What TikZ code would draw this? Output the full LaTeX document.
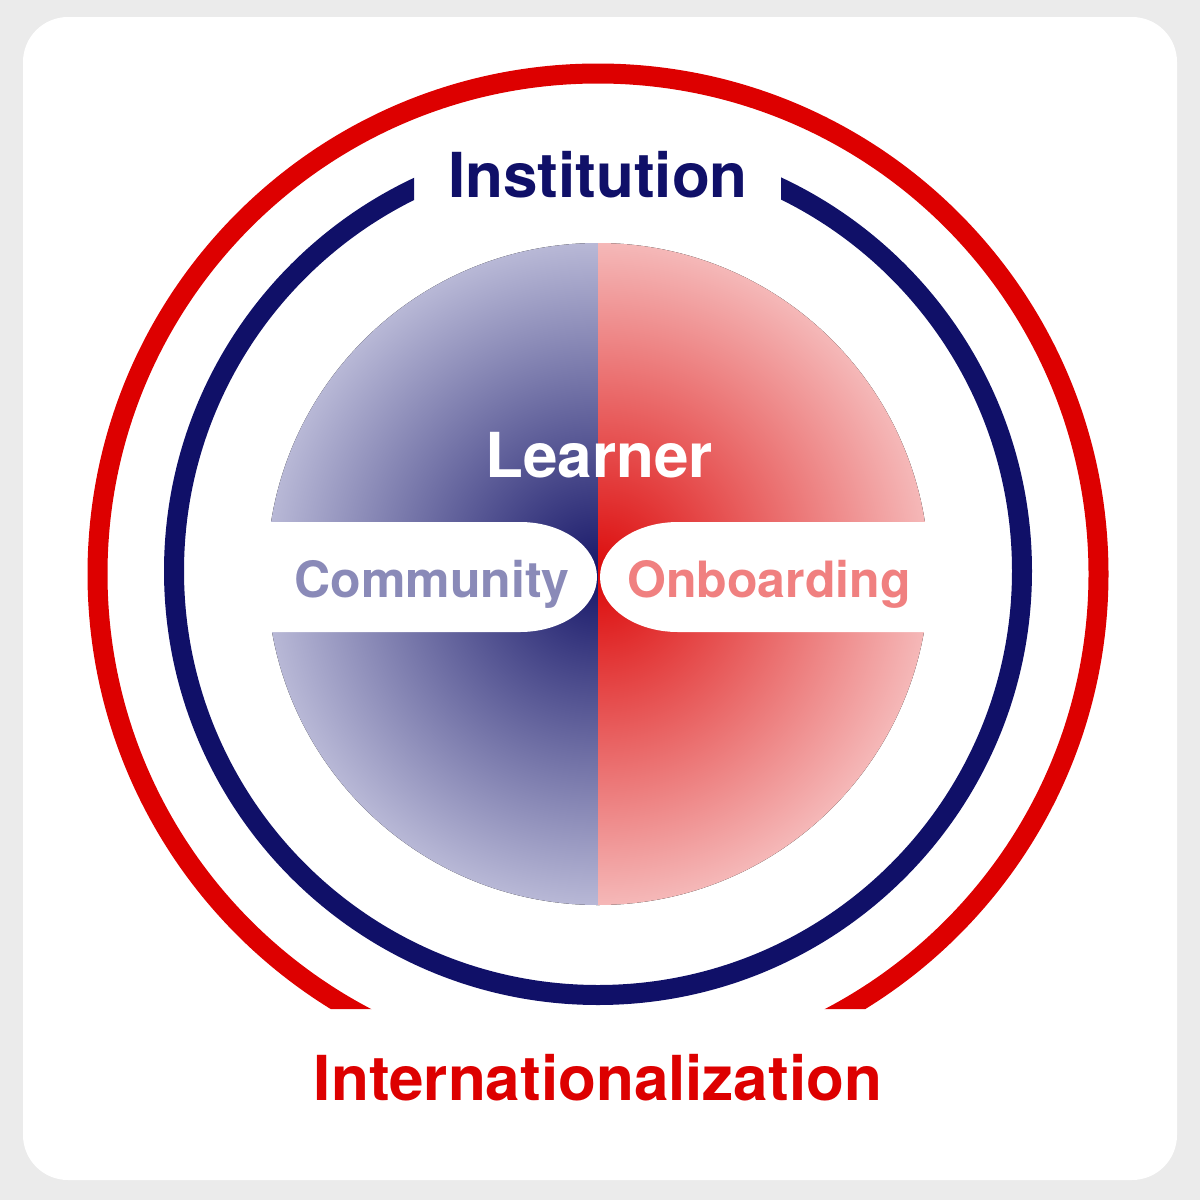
\documentclass[tikz,border=0pt]{standalone}
\usepackage{fontspec}
\setmainfont{TeX Gyre Heros}
\definecolor{bgGray}{RGB}{235,235,235}
\definecolor{navyC}{RGB}{16,16,104}
\definecolor{redC}{RGB}{221,0,0}
\definecolor{navyIn}{RGB}{22,22,104}
\definecolor{navyOut}{RGB}{184,184,214}
\definecolor{redIn}{RGB}{220,10,10}
\definecolor{redOut}{RGB}{245,184,184}
\definecolor{commC}{RGB}{138,138,184}
\definecolor{onbC}{RGB}{240,128,128}
\pgfdeclareradialshading{navyshade}{\pgfpoint{0bp}{0bp}}{color(0bp)=(navyIn); color(25bp)=(navyOut); color(50bp)=(navyOut)}
\pgfdeclareradialshading{redshade}{\pgfpoint{0bp}{0bp}}{color(0bp)=(redIn); color(25bp)=(redOut); color(50bp)=(redOut)}
\tikzset{
  bigtext/.style={font=\bfseries\fontsize{62}{70}\selectfont, anchor=base, inner sep=0pt},
  midtext/.style={font=\bfseries\fontsize{50}{60}\selectfont, anchor=base, inner sep=0pt},
  ring/.style={line width=20pt}
}
\begin{document}
\begin{tikzpicture}[x=1pt,y=-1pt]
\useasboundingbox (0,0) rectangle (1200,1200);
\fill[bgGray] (0,0) rectangle (1200,1200);
\fill[white, rounded corners=45pt] (23,17) rectangle (1177,1180);
% inner disc halves
\begin{scope}
  \clip (200,200) rectangle (598,960);
  \fill[shading=navyshade] (598,574) circle (331);
\end{scope}
\begin{scope}
  \clip (598,200) rectangle (1000,960);
  \fill[shading=redshade] (598,574) circle (331);
\end{scope}
% white bands
\fill[white] (250,522) -- (520,522) arc[start angle=-90,end angle=90,x radius=77,y radius=55] -- (250,632) -- cycle;
\fill[white] (950,522) -- (678,522) arc[start angle=-90,end angle=-270,x radius=78,y radius=55] -- (950,632) -- cycle;
% navy ring
\begin{scope}
  \clip (0,0) -- (414,0) -- (414,300) -- (781,300) -- (781,0) -- (1200,0) -- (1200,1200) -- (0,1200) -- cycle;
  \draw[ring, navyC] (598,571) circle (424);
\end{scope}
% red ring
\begin{scope}
  \clip (0,0) -- (1200,0) -- (1200,1200) -- (950,1200) -- (950,1009) -- (250,1009) -- (250,1200) -- (0,1200) -- cycle;
  \draw[ring, redC] (598,574) circle (500.5);
\end{scope}
% texts
\node[bigtext, text=navyC] (inst) at (598,197) {Institution};
\node[bigtext, text=white] (learner) at (599,477) {Learner};
\node[midtext, text=commC] (comm) at (432,597) {Community};
\node[midtext, text=onbC] (onb) at (769,597) {Onboarding};
\node[bigtext, text=redC] (intl) at (598,1100) {Internationalization};
\end{tikzpicture}
\end{document}
